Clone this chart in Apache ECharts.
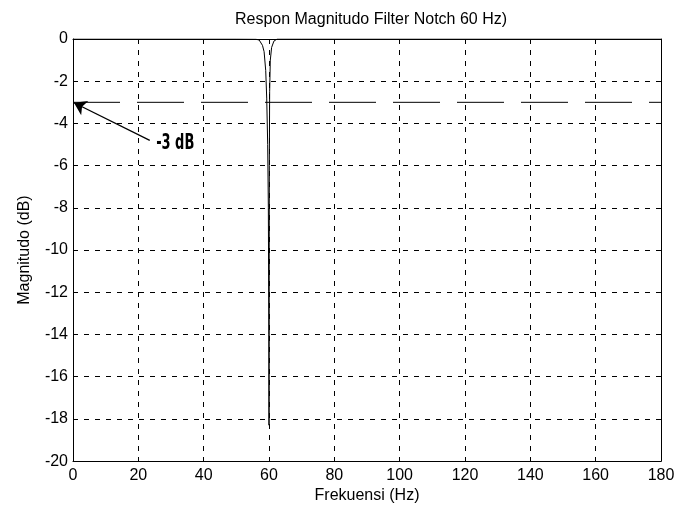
<!DOCTYPE html>
<html>
<head>
<meta charset="utf-8">
<script src="https://cdn.jsdelivr.net/npm/echarts@6/dist/echarts.min.js"></script>
<style>
html,body{margin:0;padding:0;background:#fff;}
#c{width:678px;height:509px;}
</style>
</head>
<body>
<div id="c"></div>
<script>
// Notch response (Hz, dB)
const freqHz = [0, 50, 56, 57, 58, 58.5, 59, 59.3, 59.6, 59.8, 59.95, 60, 60.05, 60.1, 60.2, 60.4, 60.8, 61.5, 62.5, 70, 180];
const magDb  = [0, 0, -0.01, -0.05, -0.3, -0.6, -1.5, -2.8, -5, -8, -14, -18.3, -12, -6, -2.5, -1, -0.4, -0.1, 0, 0, 0];
// -3 dB reference line
const refX = [0, 180];
const refY = [-3, -3];
// annotation
const arrowFrom = [23.5, -4.8];
const arrowTo = [0.3, -3.02];
const noteText = '-3 dB';
const notePos = [31.3, -4.95];
const xTicks = {min: 0, max: 180, step: 20};
const yTicks = {min: -20, max: 0, step: 2};

const FONT = "'Liberation Sans', Arial, sans-serif";
const FS = 16;
const chart = echarts.init(document.getElementById('c'), null, {renderer: 'canvas'});

function axisBase(extra) {
  return Object.assign({
    type: 'value',
    axisLine: {show: true, onZero: false, lineStyle: {color: '#000', width: 1}},
    axisTick: {show: true, inside: true, length: 4, lineStyle: {color: '#000'}},
    axisLabel: {color: '#000', fontSize: FS, fontFamily: FONT},
    splitLine: {show: false},
    nameTextStyle: {color: '#000', fontSize: FS, fontFamily: FONT}
  }, extra);
}

const option = {
  backgroundColor: '#fff',
  animation: false,
  title: {
    text: 'Respon Magnitudo Filter Notch 60 Hz)',
    left: 366, top: 7, textAlign: 'center',
    textStyle: {color: '#000', fontSize: FS, fontWeight: 'normal', fontFamily: FONT}
  },
  grid: {left: 73, right: 17, top: 39, bottom: 43},
  xAxis: [
    axisBase({
      min: xTicks.min, max: xTicks.max, interval: xTicks.step, position: 'bottom',
      name: 'Frekuensi (Hz)', nameLocation: 'middle', nameGap: 26,
      axisLabel: {color: '#000', fontSize: FS, fontFamily: FONT, margin: 6},
      splitLine: {show: true, lineStyle: {color: '#000', type: [5, 6], width: 1}}
    }),
    axisBase({
      min: xTicks.min, max: xTicks.max, interval: xTicks.step, position: 'top',
      axisLabel: {show: false}
    })
  ],
  yAxis: [
    axisBase({
      min: yTicks.min, max: yTicks.max, interval: yTicks.step, position: 'left',
      name: 'Magnitudo (dB)', nameLocation: 'middle', nameGap: 40,
      axisLabel: {color: '#000', fontSize: FS, fontFamily: FONT, margin: 5},
      splitLine: {show: true, lineStyle: {color: '#000', type: [5, 6], width: 1}}
    }),
    axisBase({
      min: yTicks.min, max: yTicks.max, interval: yTicks.step, position: 'right',
      axisLabel: {show: false}
    })
  ],
  series: [
    {
      type: 'line', xAxisIndex: 0, yAxisIndex: 0,
      data: freqHz.map((f, i) => [f, magDb[i]]),
      symbol: 'none', smooth: false,
      lineStyle: {color: '#000', width: 1},
      z: 5
    },
    {
      type: 'line', xAxisIndex: 0, yAxisIndex: 0,
      data: refX.map((f, i) => [f, refY[i]]),
      symbol: 'none',
      lineStyle: {color: '#000', width: 1, type: [47, 17]},
      z: 4,
      markLine: {
        silent: true, animation: false,
        symbol: ['none', 'arrow'], symbolSize: 12,
        itemStyle: {color: '#000'},
        lineStyle: {color: '#000', width: 1.3, type: 'solid'},
        label: {show: false},
        data: [[{coord: arrowFrom}, {coord: arrowTo}]]
      }
    }
  ]
};
chart.setOption(option);

// annotation text, placed at its data position
const p = chart.convertToPixel({xAxisIndex: 0, yAxisIndex: 0}, notePos);
chart.setOption({
  graphic: [{
    type: 'text', x: p[0], y: p[1], scaleX: 0.62, scaleY: 1, z: 20,
    style: {
      text: noteText, fill: '#000', font: "bold 21px 'DejaVu Sans', sans-serif",
      textAlign: 'center', textVerticalAlign: 'middle'
    }
  }]
});
</script>
</body>
</html>
